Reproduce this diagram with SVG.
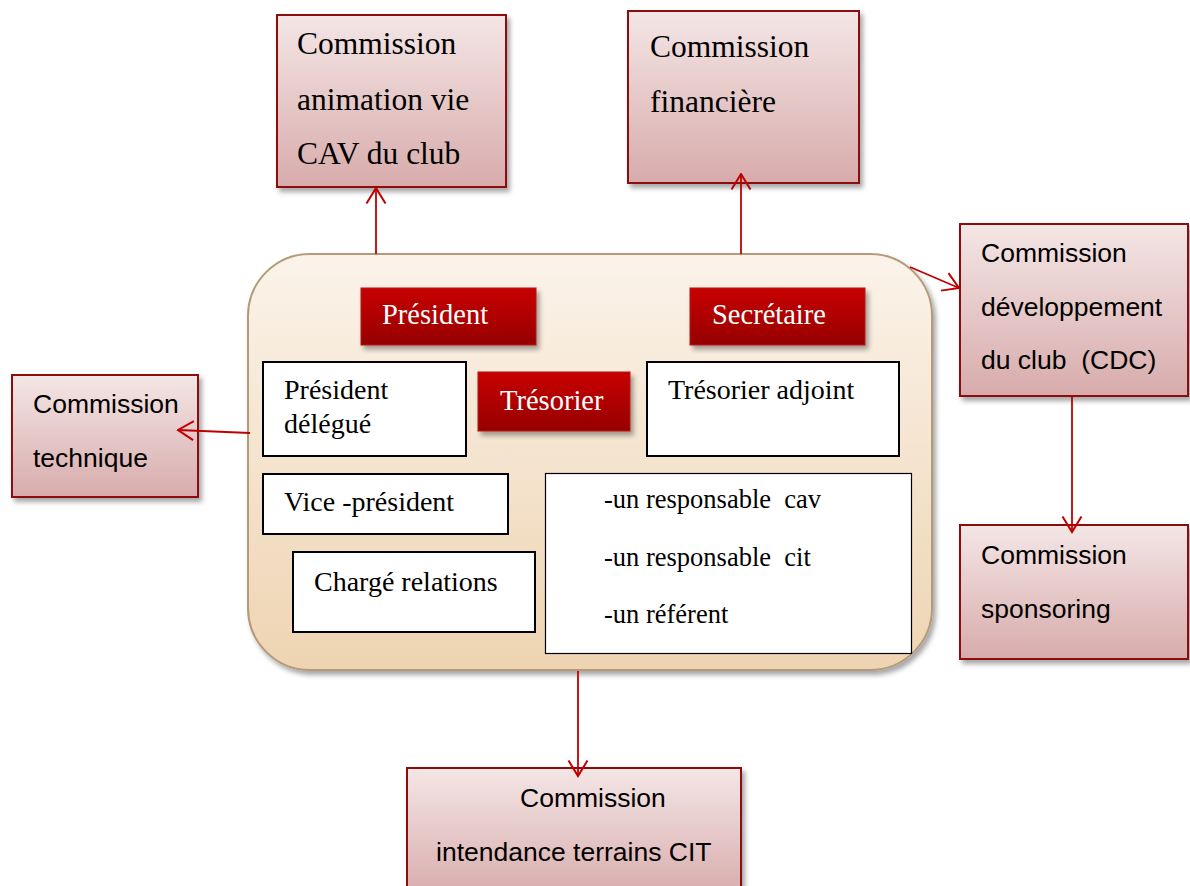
<svg xmlns="http://www.w3.org/2000/svg" width="1190" height="886" viewBox="0 0 1190 886">
<defs>
<linearGradient id="gPink" x1="0" y1="0" x2="0" y2="1">
<stop offset="0" stop-color="#f4e6e6"/>
<stop offset="1" stop-color="#d8abab"/>
</linearGradient>
<linearGradient id="gMain" x1="0" y1="0" x2="0" y2="1">
<stop offset="0" stop-color="#fbf3ea"/>
<stop offset="1" stop-color="#eed4b2"/>
</linearGradient>
<linearGradient id="gRed" x1="0" y1="0" x2="0" y2="1">
<stop offset="0" stop-color="#c80000"/>
<stop offset="1" stop-color="#960000"/>
</linearGradient>
<filter id="sh" x="-10%" y="-10%" width="125%" height="125%">
<feDropShadow dx="3" dy="4" stdDeviation="2.5" flood-color="#000" flood-opacity="0.35"/>
</filter>
<marker id="arr" viewBox="0 0 18 22" refX="16.5" refY="11" markerWidth="18" markerHeight="22" markerUnits="userSpaceOnUse" orient="auto">
<path d="M1,1.5 L16.5,11 L1,20.5" fill="none" stroke="#c00000" stroke-width="2"/>
</marker>
</defs>
<style>
.com{fill:url(#gPink);stroke:#8b0a0a;stroke-width:2;filter:url(#sh)}
.red{fill:url(#gRed);stroke:#b01010;stroke-width:1;filter:url(#sh)}
.wb{fill:#fff;stroke:#000;stroke-width:2}
.serif{font-family:"Liberation Serif","Times New Roman",serif;fill:#000}
.sans{font-family:"Liberation Sans",Arial,sans-serif;font-size:26.5px;fill:#000}
.wt{font-family:"Liberation Serif","Times New Roman",serif;font-size:28.5px;fill:#fff}
.conn{stroke:#c00000;stroke-width:1.8;fill:none;marker-end:url(#arr)}
</style>
<rect width="1190" height="886" fill="#fff"/>

<g id="bureau">
<rect x="248" y="254" width="684" height="416" rx="62" fill="url(#gMain)" stroke="#b39b7a" stroke-width="2" filter="url(#sh)"/>
</g>

<g id="president">
<rect class="red" x="361" y="288" width="175" height="57"/>
<text class="wt" x="382" y="324">Président</text>
</g>
<g id="secretaire">
<rect class="red" x="690" y="288" width="175" height="57"/>
<text class="wt" x="712" y="324">Secrétaire</text>
</g>
<g id="tresorier">
<rect class="red" x="478" y="372" width="152" height="59"/>
<text class="wt" x="500" y="410">Trésorier</text>
</g>
<g id="president-delegue">
<rect class="wb" x="263" y="362" width="203" height="94"/>
<text class="serif" font-size="28" x="284" y="399">Président</text>
<text class="serif" font-size="28" x="284" y="433">délégué</text>
</g>
<g id="tresorier-adjoint">
<rect class="wb" x="647" y="362" width="252" height="94"/>
<text class="serif" font-size="28" x="668" y="399">Trésorier adjoint</text>
</g>
<g id="vice-president">
<rect class="wb" x="263" y="474" width="245" height="60"/>
<text class="serif" font-size="28" x="284" y="511">Vice -président</text>
</g>
<g id="charge-relations">
<rect class="wb" x="293" y="552" width="242" height="80"/>
<text class="serif" font-size="28" x="314" y="591">Chargé relations</text>
</g>
<g id="responsables">
<rect x="545.5" y="473.5" width="366" height="180" fill="#fff" stroke="#000" stroke-width="1.2"/>
<text class="serif" font-size="26.5" x="604" y="508" xml:space="preserve">-un responsable  cav</text>
<text class="serif" font-size="26.5" x="604" y="566" xml:space="preserve">-un responsable  cit</text>
<text class="serif" font-size="26.5" x="604" y="623">-un référent</text>
</g>

<g id="commission-animation">
<rect class="com" x="277" y="15" width="229" height="172"/>
<text class="serif" font-size="31.5" x="297" y="54">Commission</text>
<text class="serif" font-size="31.5" x="297" y="110">animation vie</text>
<text class="serif" font-size="31.5" x="297" y="164">CAV du club</text>
</g>
<g id="commission-financiere">
<rect class="com" x="628" y="11" width="231" height="172"/>
<text class="serif" font-size="31.5" x="650" y="57">Commission</text>
<text class="serif" font-size="31.5" x="650" y="112">financière</text>
</g>
<g id="commission-cdc">
<rect class="com" x="960" y="224" width="228" height="172"/>
<text class="sans" x="981" y="262">Commission</text>
<text class="sans" x="981" y="316">développement</text>
<text class="sans" x="981" y="369" xml:space="preserve">du club  (CDC)</text>
</g>
<g id="commission-technique">
<rect class="com" x="12" y="375" width="186" height="122"/>
<text class="sans" x="33" y="413">Commission</text>
<text class="sans" x="33" y="467">technique</text>
</g>
<g id="commission-sponsoring">
<rect class="com" x="960" y="525" width="228" height="134"/>
<text class="sans" x="981" y="564">Commission</text>
<text class="sans" x="981" y="618">sponsoring</text>
</g>
<g id="commission-intendance">
<rect class="com" x="407" y="768" width="334" height="130"/>
<text class="sans" x="520" y="807">Commission</text>
<text class="sans" x="436" y="861">intendance terrains CIT</text>
</g>

<g id="connectors">
<line class="conn" x1="376" y1="254" x2="376" y2="188"/>
<line class="conn" x1="741" y1="254" x2="741" y2="174"/>
<line class="conn" x1="250" y1="433" x2="178" y2="430"/>
<line class="conn" x1="910" y1="267" x2="959" y2="288"/>
<line class="conn" x1="1072" y1="397" x2="1072" y2="532"/>
<line class="conn" x1="578" y1="671" x2="578" y2="776"/>
</g>
</svg>
